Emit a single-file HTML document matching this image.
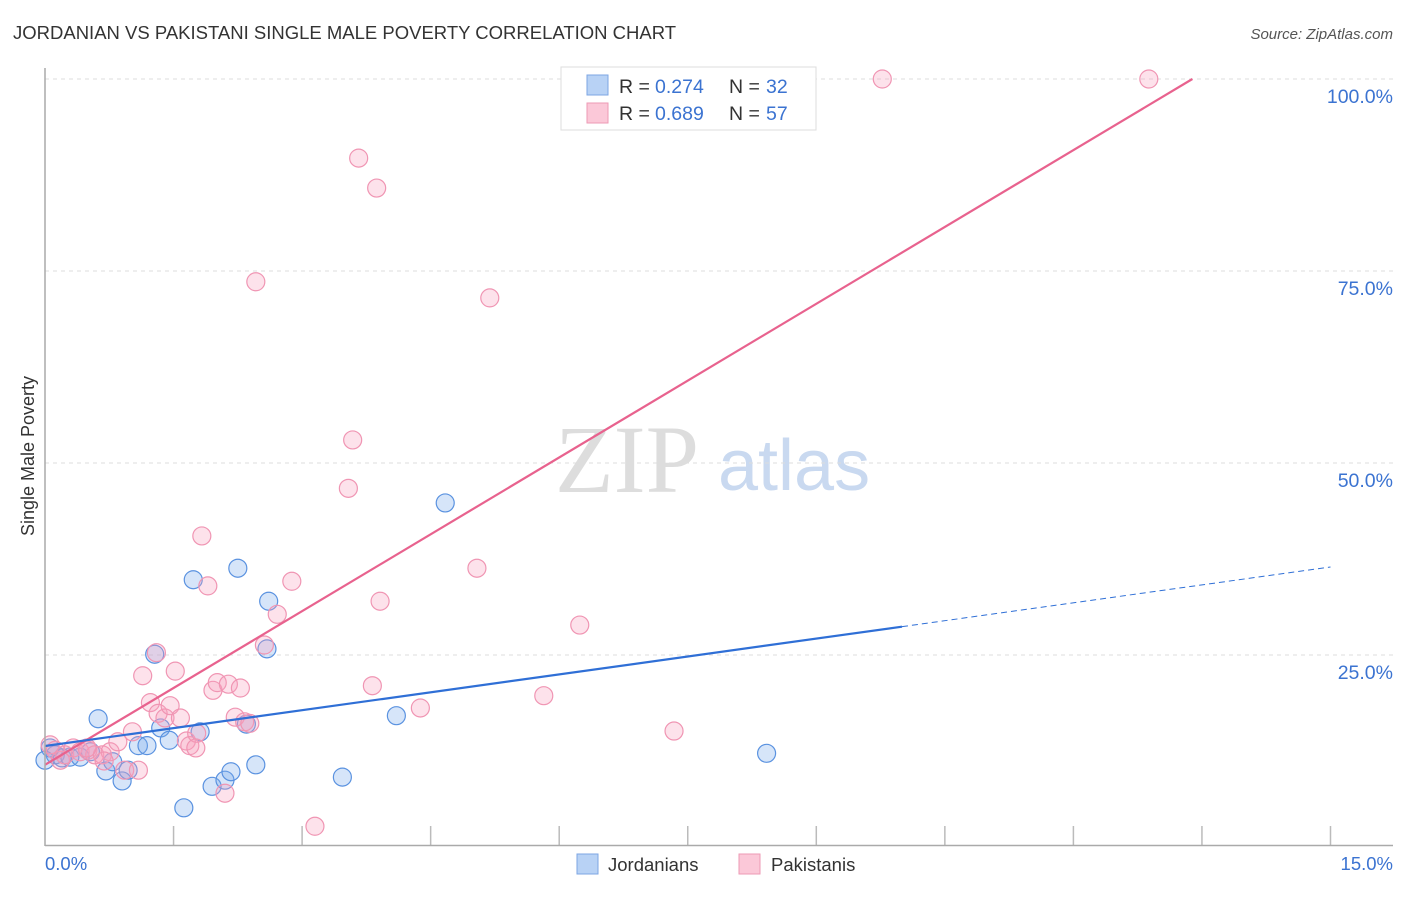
<!DOCTYPE html>
<html><head><meta charset="utf-8"><style>
body{margin:0;background:#fff;font-family:"Liberation Sans",sans-serif;}
svg text{font-family:"Liberation Sans",sans-serif;}
</style></head><body>
<svg id="c" width="1406" height="892" xmlns="http://www.w3.org/2000/svg">
<text x="13" y="39" font-size="18.5" fill="#333">JORDANIAN VS PAKISTANI SINGLE MALE POVERTY CORRELATION CHART</text>
<text x="1393" y="39" font-size="15" fill="#555" font-style="italic" text-anchor="end">Source: ZipAtlas.com</text>
<text x="555" y="492" font-size="96" fill="#ddd" style="font-family:'Liberation Serif',serif">ZIP</text>
<text x="718" y="490" font-size="72" fill="#c9d9f0">atlas</text>
<g id="grid"></g><g id="pts"></g><g id="lines"></g>
<line x1="45" y1="68" x2="45" y2="846" stroke="#aaa" stroke-width="1.5"/>
<line x1="45" y1="845.5" x2="1393" y2="845.5" stroke="#aaa" stroke-width="1.5"/>
<text x="34" y="456" font-size="18" fill="#333" text-anchor="middle" transform="rotate(-90 34 456)">Single Male Poverty</text>
<text x="45" y="870" font-size="18.5" fill="#3b73d1">0.0%</text>
<text x="1393" y="870" font-size="18.5" fill="#3b73d1" text-anchor="end">15.0%</text>
<g>
<rect x="561" y="67" width="255" height="63" fill="#fff" stroke="#ddd"/>
<rect x="587" y="75" width="21" height="20" fill="#b8d2f5" stroke="#7da6e3"/>
<rect x="587" y="103" width="21" height="20" fill="#fbc8d8" stroke="#ee9ab5"/>
<text x="619" y="93" font-size="19.5" fill="#333">R =</text>
<text x="655" y="93" font-size="19.5" fill="#3b73d1">0.274</text>
<text x="729" y="93" font-size="19.5" fill="#333">N =</text>
<text x="766" y="93" font-size="19.5" fill="#3b73d1">32</text>
<text x="619" y="120" font-size="19.5" fill="#333">R =</text>
<text x="655" y="120" font-size="19.5" fill="#3b73d1">0.689</text>
<text x="729" y="120" font-size="19.5" fill="#333">N =</text>
<text x="766" y="120" font-size="19.5" fill="#3b73d1">57</text>
</g>
<g><rect x="577" y="854" width="21" height="20" fill="#b8d2f5" stroke="#7da6e3"/><text x="608" y="871" font-size="18.5" fill="#333">Jordanians</text></g>
<g><rect x="739" y="854" width="21" height="20" fill="#fbc8d8" stroke="#ee9ab5"/><text x="771" y="871" font-size="18.5" fill="#333">Pakistanis</text></g>
</svg>
<script>
const yTicks=[25,50,75,100];
const yTickLabels=["25.0%","50.0%","75.0%","100.0%"];
const xTicks=[1.5,3,4.5,6,7.5,9,10.5,12,13.5,15];
const jorX=[0.12,0.20,0.29,0.41,0.53,0.62,0.71,0.79,0.90,0.97,1.09,1.19,1.28,1.35,1.45,1.62,1.73,1.81,1.95,2.10,2.17,2.25,2.35,2.46,2.59,2.61,3.47,4.10,4.67,8.42,0.06,0.0];
const jorY=[12.0,11.6,11.7,11.7,12.4,16.7,9.9,11.1,8.6,10.0,13.2,13.2,25.1,15.5,13.9,5.1,34.8,15.0,7.9,8.7,9.8,36.3,16.0,10.7,25.8,32.0,9.1,17.1,44.8,12.2,12.9,11.3];
const pakX=[0.06,0.12,0.18,0.23,0.33,0.41,0.50,0.58,0.67,0.76,0.85,0.93,1.02,1.09,1.14,1.23,1.30,1.32,1.40,1.46,1.52,1.58,1.65,1.69,1.77,1.83,1.90,1.96,2.01,2.14,2.22,2.28,2.33,2.39,2.46,2.56,2.71,2.88,3.15,3.54,3.59,3.66,3.82,3.87,3.91,4.38,5.04,5.19,5.82,6.24,7.34,9.77,12.88,2.10,1.76,0.69,0.49];
const pakY=[13.3,12.6,11.3,12.0,12.9,12.4,12.6,12.0,12.0,12.4,13.7,10.0,15.0,10.0,22.3,18.8,25.3,17.4,16.8,18.4,22.9,16.8,13.8,13.2,14.8,40.5,34.0,20.4,21.4,21.2,16.9,20.7,16.3,16.1,73.6,26.3,30.3,34.6,2.7,46.7,53.0,89.7,21.0,85.8,32.0,18.1,36.3,71.5,19.7,28.9,15.1,100,100,7.0,12.9,11.2,12.9];
const jorFit=[13.15,1.554,10.0];
const pakFit=[10.7,6.67];
const X=v=>45+v*85.7, Y=v=>847-v*7.68;
const NS="http://www.w3.org/2000/svg";
function mk(p,t,a){const e=document.createElementNS(NS,t);for(const k in a)e.setAttribute(k,a[k]);p.appendChild(e);return e;}
const g=document.getElementById('grid');
yTicks.forEach((v,i)=>{
 const l=mk(g,'line',{x1:45,x2:1393,y1:Y(v),y2:Y(v),stroke:'#ddd','stroke-dasharray':'4 4'});
 
 
 const t=mk(g,'text',{x:1393,y:Y(v)+24,'font-size':19.5,fill:'#3b73d1','text-anchor':'end'});t.textContent=yTickLabels[i];
 
 
});
xTicks.forEach(v=>{
 const l=mk(g,'line',{x1:X(v),x2:X(v),y1:826,y2:845,stroke:'#bbb','stroke-width':1.5});
 
 
});
const p=document.getElementById('pts');
jorX.forEach((v,i)=>{const c=mk(p,'circle',{cx:X(v),cy:Y(jorY[i]),r:9,fill:'rgba(120,168,236,0.3)',stroke:'#5a92e0','stroke-width':1.2});
 
 });
pakX.forEach((v,i)=>{const c=mk(p,'circle',{cx:X(v),cy:Y(pakY[i]),r:9,fill:'rgba(248,160,188,0.3)',stroke:'#f095b3','stroke-width':1.2});
 
 });
const L=document.getElementById('lines');
const xe=(100-pakFit[0])/pakFit[1];
const pl=mk(L,'line',{x1:X(0),y1:Y(pakFit[0]),x2:X(xe),y2:Y(100),stroke:'#e8628e','stroke-width':2.2});


const bl=mk(L,'line',{x1:X(0),y1:Y(jorFit[0]),x2:X(jorFit[2]),y2:Y(jorFit[0]+jorFit[1]*jorFit[2]),stroke:'#2f6fd6','stroke-width':2.2});


const bd=mk(L,'line',{x1:X(jorFit[2]),y1:Y(jorFit[0]+jorFit[1]*jorFit[2]),x2:X(15),y2:Y(jorFit[0]+jorFit[1]*15),stroke:'#2f6fd6','stroke-width':1,'stroke-dasharray':'6 4'});


</script>
</body></html>
